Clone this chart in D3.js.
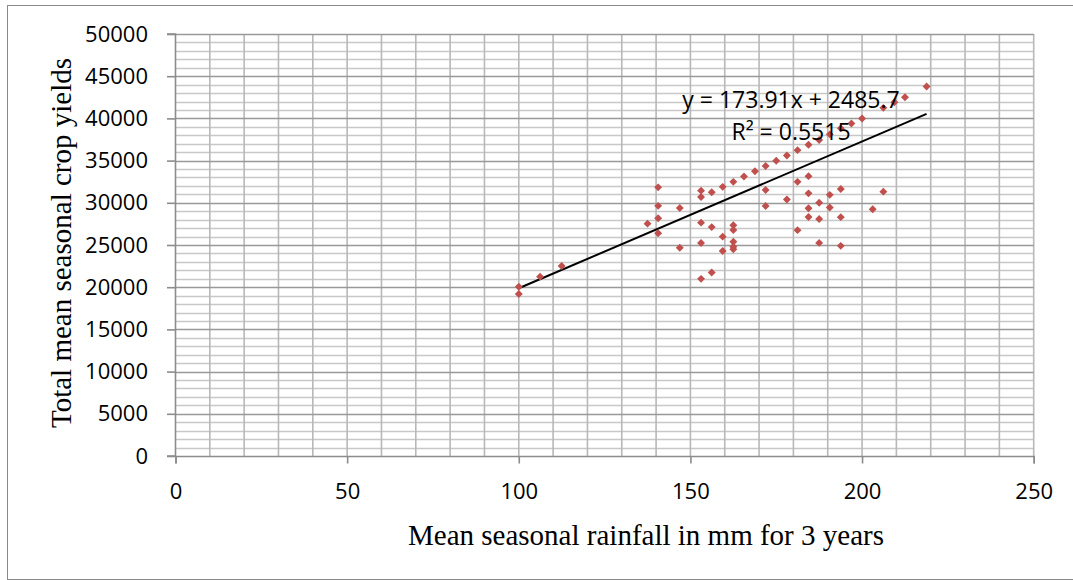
<!DOCTYPE html>
<html>
<head>
<meta charset="utf-8">
<script src="https://cdn.jsdelivr.net/npm/d3@7"></script>
<style>
  html, body { margin: 0; padding: 0; background: #fff; }
  svg { display: block; }
</style>
</head>
<body>
<svg id="chart" width="1073" height="580"></svg>
<script>
// Mean seasonal rainfall (mm, 3-year mean) against total mean seasonal crop yields
const rainfall = [
  100, 100, 106.2, 112.5,
  137.5,
  140.6, 140.6, 140.6, 140.6,
  146.9, 146.9,
  153.1, 153.1, 153.1, 153.1, 153.1,
  156.2, 156.2, 156.2,
  159.4, 159.4, 159.4,
  162.5, 162.5, 162.5, 162.5, 162.5, 162.5,
  165.6, 168.8,
  171.9, 171.9, 171.9,
  175,
  178.1, 178.1,
  181.2, 181.2, 181.2,
  184.4, 184.4, 184.4, 184.4, 184.4,
  187.5, 187.5, 187.5, 187.5,
  190.6, 190.6, 190.6,
  193.8, 193.8, 193.8, 193.8,
  196.9, 200, 203.1,
  206.2, 206.2,
  209.4, 212.5, 218.8
];
const cropYield = [
  20060, 19190, 21250, 22510,
  27530,
  31830, 29640, 28160, 26400,
  29390, 24680,
  31440, 30690, 27650, 25230, 20990,
  31240, 27120, 21740,
  31890, 25990, 24290,
  32480, 27350, 26780, 25390, 24800, 24490,
  33110, 33730,
  34360, 31520, 29620,
  34990,
  35600, 30390,
  36240, 32480, 26760,
  36870, 33160, 31120, 29360, 28320,
  37440, 30000, 28080, 25250,
  38110, 30940, 29440,
  38820, 31640, 28300, 24900,
  39400, 39990, 29230,
  41250, 31320,
  41910, 42500, 43780
];

// Linear trend line as printed on the chart
const trendSlope = 173.91;
const trendIntercept = 2485.7;
const trendR2 = 0.5515;

const xTicks = [0, 50, 100, 150, 200, 250];
const yTicks = [0, 5000, 10000, 15000, 20000, 25000, 30000, 35000, 40000, 45000, 50000];

const points = rainfall.map((r, i) => ({ x: r, y: cropYield[i] }));

const svg = d3.select("#chart");
const plotLeft = 175.5, plotRight = 1033.7, plotTop = 34, plotBottom = 456;

const x = d3.scaleLinear().domain([0, 250]).range([plotLeft, plotRight]);
const y = d3.scaleLinear().domain([0, 50000]).range([plotBottom, plotTop]);

// outer frame
svg.append("rect")
  .attr("x", 7.5).attr("y", 5.5)
  .attr("width", 1075).attr("height", 574)
  .attr("fill", "none").attr("stroke", "#8a8a8a").attr("stroke-width", 1);

const grid = svg.append("g");

// minor horizontal gridlines every 1000
grid.selectAll("line.hminor")
  .data(d3.range(1000, 50000, 1000).filter(v => v % 5000 !== 0))
  .join("line")
  .attr("x1", plotLeft).attr("x2", plotRight)
  .attr("y1", d => Math.round(y(d)) + 0.5).attr("y2", d => Math.round(y(d)) + 0.5)
  .attr("stroke", "#c8c8c8").attr("stroke-width", 1.5);

// vertical gridlines every 10
grid.selectAll("line.v")
  .data(d3.range(10, 251, 10))
  .join("line")
  .attr("x1", d => x(d)).attr("x2", d => x(d))
  .attr("y1", plotTop).attr("y2", plotBottom)
  .attr("stroke", "#b8b8b8").attr("stroke-width", 1.6);

// major horizontal gridlines every 5000
grid.selectAll("line.hmajor")
  .data(yTicks.filter(v => v > 0))
  .join("line")
  .attr("x1", plotLeft).attr("x2", plotRight)
  .attr("y1", d => Math.round(y(d)) + 0.5).attr("y2", d => Math.round(y(d)) + 0.5)
  .attr("stroke", "#999999").attr("stroke-width", 1.6);

// axes
const axisFont = "'Open Sans', sans-serif";

const yAxis = svg.append("g")
  .attr("transform", `translate(${plotLeft},0)`)
  .call(d3.axisLeft(y).tickValues(yTicks).tickSize(8.5).tickPadding(19).tickFormat(d3.format("d")));
const xAxis = svg.append("g")
  .attr("transform", `translate(0,${plotBottom})`)
  .call(d3.axisBottom(x).tickValues(xTicks).tickSize(7.5).tickPadding(20).tickFormat(d3.format("d")));

[yAxis, xAxis].forEach(a => {
  a.select(".domain").attr("stroke", "#8c8c8c").attr("stroke-width", 1.6);
  a.selectAll(".tick line").attr("stroke", "#8c8c8c").attr("stroke-width", 1.6);
  a.selectAll(".tick text")
    .attr("font-family", axisFont).attr("font-size", 22).attr("fill", "#000");
});
yAxis.select(".domain").attr("d", `M-8.5,${plotBottom}H0V${plotTop}H-8.5`);
xAxis.selectAll(".tick text").attr("dy", "0.71em");

// trend line across the observed rainfall range
const xMin = d3.min(rainfall), xMax = d3.max(rainfall);
svg.append("line")
  .attr("x1", x(xMin)).attr("y1", y(trendSlope * xMin + trendIntercept))
  .attr("x2", x(xMax)).attr("y2", y(trendSlope * xMax + trendIntercept))
  .attr("stroke", "#000").attr("stroke-width", 2);

// data markers
const diamond = d3.symbol().type(d3.symbolDiamond2).size(40);
svg.append("g").selectAll("path")
  .data(points)
  .join("path")
  .attr("d", diamond)
  .attr("transform", d => `translate(${x(d.x)},${y(d.y)})`)
  .attr("fill", "#C0504D");

// trend equation and R²
svg.append("text")
  .attr("x", 791).attr("y", 108)
  .attr("text-anchor", "middle")
  .attr("font-family", axisFont).attr("font-size", 23)
  .text(`y = ${trendSlope}x + ${trendIntercept}`);
svg.append("text")
  .attr("x", 791).attr("y", 140)
  .attr("text-anchor", "middle")
  .attr("font-family", axisFont).attr("font-size", 23)
  .text(`R² = ${trendR2}`);

// axis titles
const titleFont = "'Liberation Serif', 'Times New Roman', serif";
svg.append("text")
  .attr("x", 646).attr("y", 545)
  .attr("text-anchor", "middle")
  .attr("font-family", titleFont).attr("font-size", 29)
  .text("Mean seasonal rainfall in mm for 3 years");
svg.append("text")
  .attr("transform", "translate(71,243) rotate(-90)")
  .attr("text-anchor", "middle")
  .attr("font-family", titleFont).attr("font-size", 29)
  .text("Total mean seasonal crop yields");
</script>
</body>
</html>
